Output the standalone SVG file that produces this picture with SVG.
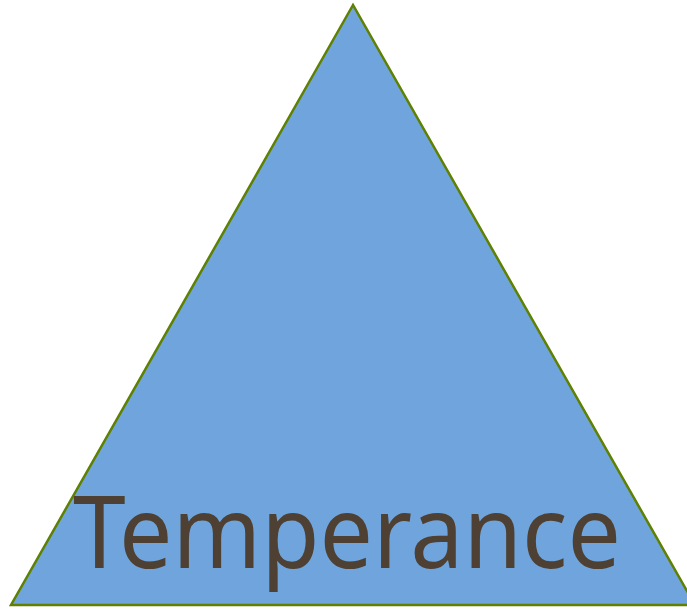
<svg xmlns="http://www.w3.org/2000/svg" width="687" height="610" viewBox="0 0 687 610">
<style>
.tri{fill:#6fa5dc;stroke:#5f8000;stroke-width:2.5;stroke-linejoin:miter}
.lbl{font-family:"Noto Sans","Open Sans",sans-serif;font-size:100px;fill:#4e4033}
</style>
<rect width="687" height="610" fill="#ffffff"/>
<g id="triangle">
<polygon class="tri" points="353,5 11,605 695,605"/>
<text class="lbl" x="347" y="568" text-anchor="middle" textLength="548" lengthAdjust="spacingAndGlyphs">Temperance</text>
</g>
</svg>
